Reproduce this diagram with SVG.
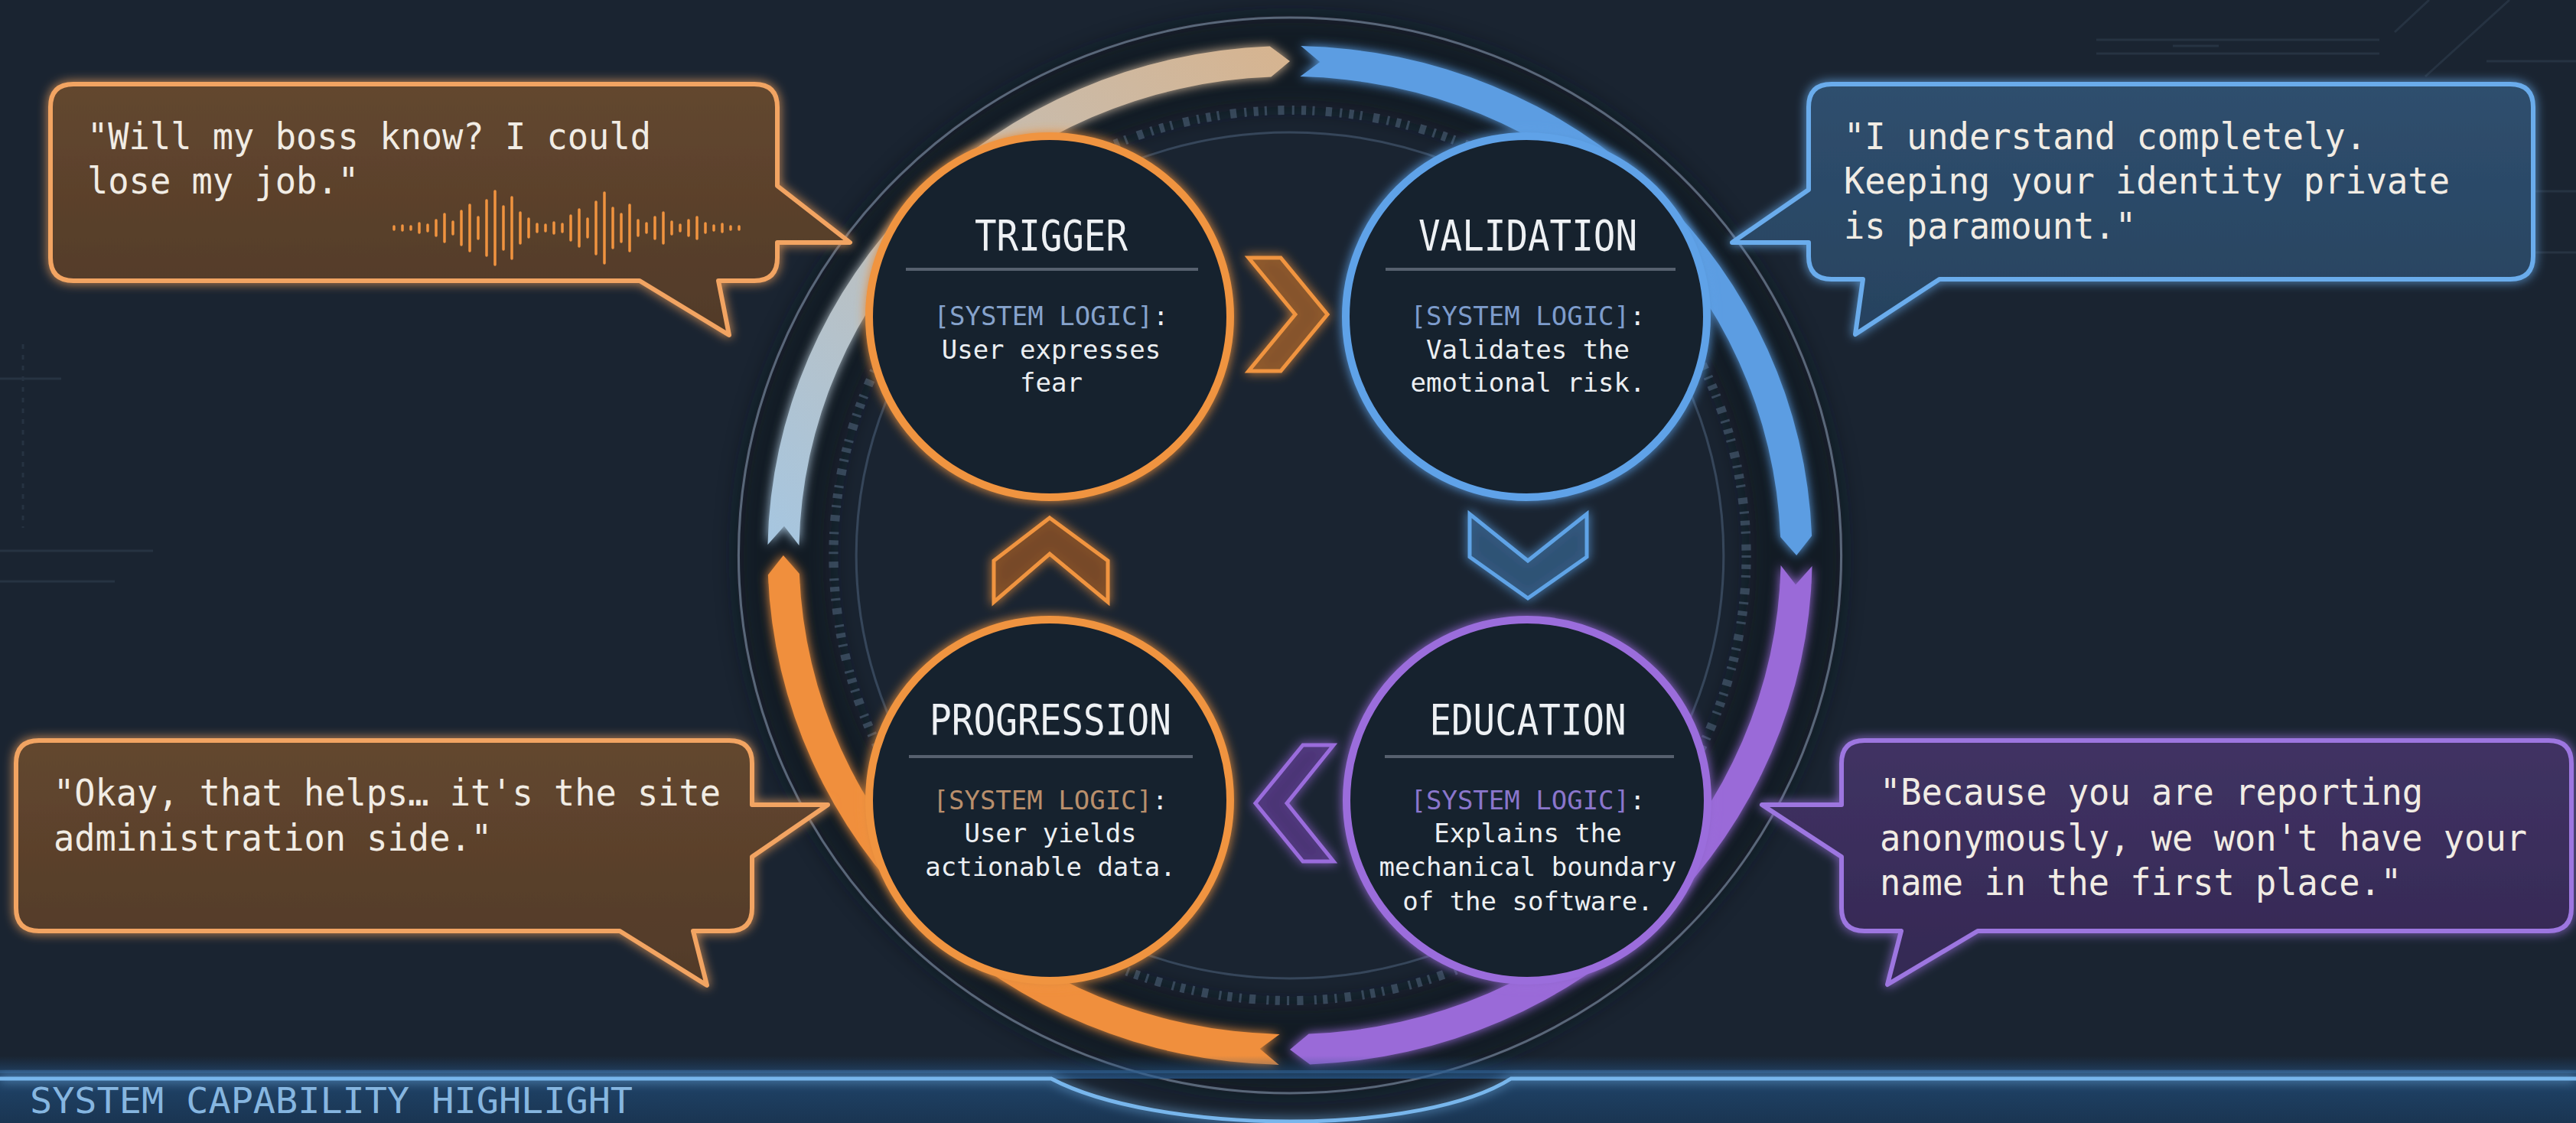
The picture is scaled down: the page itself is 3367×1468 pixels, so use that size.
<svg xmlns="http://www.w3.org/2000/svg" width="3367" height="1468" viewBox="0 0 3367 1468">
<style>
.mono{font-family:'DejaVu Sans Mono','Liberation Mono',monospace;}
.bubtxt{font-family:'DejaVu Sans Mono','Liberation Mono',monospace;font-size:48px;fill:#f1ece4;}
.title{font-family:'DejaVu Sans Mono','Liberation Mono',monospace;font-size:56px;fill:#eef1f4;text-anchor:middle;}
.body{font-family:'DejaVu Sans Mono','Liberation Mono',monospace;font-size:34px;fill:#eceff2;text-anchor:middle;}
.div{stroke:#56606e;stroke-width:4;}
.nodebg{fill:#18212d;stroke-width:10;}
.deco{stroke:#2a3747;stroke-width:3;fill:none;}
</style>
<defs>
<filter id="glow" x="-20%" y="-20%" width="140%" height="140%">
<feGaussianBlur in="SourceGraphic" stdDeviation="7" result="b"/>
<feMerge><feMergeNode in="b"/><feMergeNode in="SourceGraphic"/></feMerge>
</filter>
<filter id="soft" x="-20%" y="-20%" width="140%" height="140%">
<feGaussianBlur stdDeviation="14"/>
</filter>
<linearGradient id="gOrangeB" x1="0" y1="0" x2="0" y2="1">
<stop offset="0" stop-color="#63472f"/><stop offset="1" stop-color="#513a28"/>
</linearGradient>
<linearGradient id="gBlueB" x1="0" y1="0" x2="0" y2="1">
<stop offset="0" stop-color="#2f4f6e"/><stop offset="1" stop-color="#27425f"/>
</linearGradient>
<linearGradient id="gPurpleB" x1="0" y1="0" x2="0" y2="1">
<stop offset="0" stop-color="#403263"/><stop offset="1" stop-color="#342953"/>
</linearGradient>
<linearGradient id="gPale" gradientUnits="userSpaceOnUse" x1="0" y1="-646" x2="-646" y2="0">
<stop offset="0" stop-color="#d6b490"/><stop offset="0.45" stop-color="#c4beb5"/><stop offset="1" stop-color="#a6c6e0"/>
</linearGradient>
<linearGradient id="gPanel" x1="0" y1="0" x2="0" y2="1">
<stop offset="0" stop-color="#1f4368"/><stop offset="1" stop-color="#1a3552"/>
</linearGradient>
<linearGradient id="gPanelGlow" x1="0" y1="0" x2="0" y2="1">
<stop offset="0" stop-color="#1f4a78" stop-opacity="0"/><stop offset="1" stop-color="#2a5f96" stop-opacity="0.7"/>
</linearGradient>
</defs>

<rect width="3367" height="1468" fill="#1a2431"/>

<g id="background-deco" opacity="0.8">
<line class="deco" x1="2740" y1="52" x2="3110" y2="52"/>
<line class="deco" x1="2740" y1="70" x2="3110" y2="70"/>
<line class="deco" x1="2840" y1="60" x2="2900" y2="60"/>
<line class="deco" x1="3130" y1="42" x2="3175" y2="0"/>
<line class="deco" x1="3170" y1="100" x2="3280" y2="0"/>
<line class="deco" x1="3250" y1="80" x2="3367" y2="80"/>
<line class="deco" x1="30" y1="450" x2="30" y2="690" stroke-dasharray="6 8" stroke-width="10"/>
<line class="deco" x1="0" y1="495" x2="80" y2="495"/>
<line class="deco" x1="0" y1="720" x2="200" y2="720"/>
<line class="deco" x1="0" y1="760" x2="150" y2="760"/>
<line class="deco" x1="3250" y1="250" x2="3367" y2="250"/>
<line class="deco" x1="3220" y1="330" x2="3367" y2="330"/>
</g>

<g id="connectors">
<g id="cycle-ring" transform="translate(1686,726) scale(1.025,1)">
<circle r="646" fill="none" stroke="#0c121a" stroke-width="120" opacity="0.6" filter="url(#soft)"/>
<circle r="703" fill="none" stroke="#596779" stroke-width="3"/>
<circle r="553" fill="none" stroke="#36465a" stroke-width="3"/>
<circle r="582" fill="none" stroke="#46586e" stroke-width="12" stroke-dasharray="3 9 6 8 3 14 8 10" opacity="0.7"/>
<g filter="url(#glow)">
<path id="seg-blue" fill="#5b9de2" d="M13.9,-665.9 A666,666 0 0 1 665.5,-25.6 L646,0 L625.5,-24 A626,626 0 0 0 13.1,-625.9 L38.3,-644.9 Z"/>
<path id="seg-purple" fill="#9a6ad8" d="M665.9,13.9 A666,666 0 0 1 25.6,665.5 L0,646 L24,625.5 A626,626 0 0 0 625.9,13.1 L644.9,38.3 Z"/>
<path id="seg-orange" fill="#f08f3c" d="M-13.9,665.9 A666,666 0 0 1 -665.5,25.6 L-646,0 L-625.5,24 A626,626 0 0 0 -13.1,625.9 L-38.3,644.9 Z"/>
<path id="seg-pale" fill="url(#gPale)" d="M-665.9,-13.9 A666,666 0 0 1 -25.6,-665.5 L0,-646 L-24,-625.5 A626,626 0 0 0 -625.9,-13.1 L-644.9,-38.3 Z"/>
</g>
</g>
<g id="chevrons" filter="url(#glow)" stroke-width="5" stroke-linejoin="miter">
<polygon id="arrow-trigger-validation" points="1632,337 1674,337 1735,411 1674,485 1632,485 1693,411" fill="#8a5529" fill-opacity="0.8" stroke="#f0943f"/>
<polygon id="arrow-validation-education" points="1921,672 1997,733 2074,672 2074,728 1997,782 1921,728" fill="#2f5478" fill-opacity="0.8" stroke="#5fa3e6"/>
<polygon id="arrow-education-progression" points="1743,974 1703,974 1641,1050 1703,1126 1743,1126 1682,1050" fill="#4c3478" fill-opacity="0.8" stroke="#9a6cdc"/>
<polygon id="arrow-progression-trigger" points="1372,677 1448,733 1448,787 1372,724 1299,787 1299,733" fill="#7a4a26" fill-opacity="0.8" stroke="#f0943f"/>
</g>
</g>

<g id="node-trigger">
<circle class="nodebg" cx="1372" cy="414" r="236" stroke="#f0943f" filter="url(#glow)"/>
<text class="title" x="1374" y="327" textLength="200" lengthAdjust="spacingAndGlyphs">TRIGGER</text>
<line class="div" x1="1184" y1="352" x2="1566" y2="352"/>
<text class="body" x="1374" y="425"><tspan fill="#86a3cc">[SYSTEM LOGIC]</tspan>:</text>
<text class="body" x="1374" y="469">User expresses</text>
<text class="body" x="1374" y="512">fear</text>
</g>

<g id="node-validation">
<circle class="nodebg" cx="1995" cy="414" r="236" stroke="#5ea2e8" filter="url(#glow)"/>
<text class="title" x="1997" y="327" textLength="286" lengthAdjust="spacingAndGlyphs">VALIDATION</text>
<line class="div" x1="1811" y1="352" x2="2190" y2="352"/>
<text class="body" x="1997" y="425"><tspan fill="#7d9ccc">[SYSTEM LOGIC]</tspan>:</text>
<text class="body" x="1997" y="469">Validates the</text>
<text class="body" x="1997" y="512">emotional risk.</text>
</g>

<g id="node-education">
<circle class="nodebg" cx="1996" cy="1046" r="236" stroke="#9b6ddc" filter="url(#glow)"/>
<text class="title" x="1997" y="960" textLength="257" lengthAdjust="spacingAndGlyphs">EDUCATION</text>
<line class="div" x1="1810" y1="989" x2="2188" y2="989"/>
<text class="body" x="1997" y="1058"><tspan fill="#8a76cc">[SYSTEM LOGIC]</tspan>:</text>
<text class="body" x="1997" y="1101">Explains the</text>
<text class="body" x="1997" y="1145">mechanical boundary</text>
<text class="body" x="1997" y="1190">of the software.</text>
</g>

<g id="node-progression">
<circle class="nodebg" cx="1372" cy="1046" r="236" stroke="#f0943f" filter="url(#glow)"/>
<text class="title" x="1373" y="960" textLength="316" lengthAdjust="spacingAndGlyphs">PROGRESSION</text>
<line class="div" x1="1188" y1="989" x2="1559" y2="989"/>
<text class="body" x="1373" y="1058"><tspan fill="#b98f6c">[SYSTEM LOGIC]</tspan>:</text>
<text class="body" x="1373" y="1101">User yields</text>
<text class="body" x="1373" y="1145">actionable data.</text>
</g>

<g id="bubble-trigger">
<path d="M96,110 H986 Q1016,110 1016,140 V243 L1111,317 H1016 V337 Q1016,367 986,367 H939 L953,438 L836,367 H96 Q66,367 66,337 V140 Q66,110 96,110 Z" fill="url(#gOrangeB)" stroke="#f2a462" stroke-width="6" stroke-linejoin="round" filter="url(#glow)"/>
<text class="bubtxt" x="114" y="195" textLength="737" lengthAdjust="spacingAndGlyphs">"Will my boss know? I could</text>
<text class="bubtxt" x="114" y="253" textLength="355" lengthAdjust="spacingAndGlyphs">lose my job."</text>
<g id="waveform" stroke="#f0933f" stroke-width="3.5" stroke-linecap="round" fill="none">
<path d="M515,296V300M526,295V301M537,296V300M548,292V304M559,294V302M570,288V308M581,280V316M592,290V306M603,276V320M614,268V328M625,284V312M636,262V334M647,250V346M658,270V326M669,258V338M680,278V318M691,286V310M702,293V303M713,294V302M724,291V305M735,293V303M746,282V314M757,274V322M768,286V310M779,264V332M790,252V344M801,272V324M812,280V316M823,268V328M834,288V308M845,292V304M856,284V312M867,278V318M878,290V306M889,294V302M900,288V308M911,284V312M922,292V304M933,295V301M944,293V303M955,296V300M966,296V300"/>
</g>
</g>

<g id="bubble-validation">
<path d="M2394,110 H3281 Q3311,110 3311,140 V335 Q3311,365 3281,365 H2535 L2425,437 L2435,365 H2394 Q2364,365 2364,335 V317 L2264,317 L2364,248 V140 Q2364,110 2394,110 Z" fill="url(#gBlueB)" stroke="#6aacec" stroke-width="6" stroke-linejoin="round" filter="url(#glow)"/>
<text class="bubtxt" x="2410" y="195" textLength="683" lengthAdjust="spacingAndGlyphs">"I understand completely.</text>
<text class="bubtxt" x="2410" y="253" textLength="792" lengthAdjust="spacingAndGlyphs">Keeping your identity private</text>
<text class="bubtxt" x="2410" y="312" textLength="382" lengthAdjust="spacingAndGlyphs">is paramount."</text>
</g>

<g id="bubble-progression">
<path d="M51,968 H953 Q983,968 983,998 V1052 H1082 L983,1120 V1187 Q983,1217 953,1217 H906 L924,1288 L810,1217 H51 Q21,1217 21,1187 V998 Q21,968 51,968 Z" fill="url(#gOrangeB)" stroke="#f2a462" stroke-width="6" stroke-linejoin="round" filter="url(#glow)"/>
<text class="bubtxt" x="70" y="1053" textLength="872" lengthAdjust="spacingAndGlyphs">"Okay, that helps… it's the site</text>
<text class="bubtxt" x="70" y="1112" textLength="573" lengthAdjust="spacingAndGlyphs">administration side."</text>
</g>

<g id="bubble-education">
<path d="M2437,968 H3331 Q3361,968 3361,998 V1187 Q3361,1217 3331,1217 H2585 L2467,1287 L2485,1217 H2437 Q2407,1217 2407,1187 V1120 L2303,1052 H2407 V998 Q2407,968 2437,968 Z" fill="url(#gPurpleB)" stroke="#9d76e0" stroke-width="6" stroke-linejoin="round" filter="url(#glow)"/>
<text class="bubtxt" x="2457" y="1052" textLength="710" lengthAdjust="spacingAndGlyphs">"Because you are reporting</text>
<text class="bubtxt" x="2457" y="1112" textLength="846" lengthAdjust="spacingAndGlyphs">anonymously, we won't have your</text>
<text class="bubtxt" x="2457" y="1170" textLength="682" lengthAdjust="spacingAndGlyphs">name in the first place."</text>
</g>

<g id="capability-panel">
<rect x="0" y="1380" width="3367" height="30" fill="url(#gPanelGlow)"/>
<path d="M0,1410 H1374 C1440,1445 1560,1468 1686,1468 C1810,1468 1920,1445 1975,1410 H3367 V1468 H0 Z" fill="url(#gPanel)"/>
<line x1="0" y1="1401" x2="3367" y2="1401" stroke="#2f5f90" stroke-width="4" opacity="0.6"/>
<path d="M0,1410 H1374 C1440,1445 1560,1466 1686,1466 C1810,1466 1920,1445 1975,1410 H3367" fill="none" stroke="#78b6ec" stroke-width="5" filter="url(#glow)"/>
<text class="mono" x="39" y="1455" font-size="46" fill="#86b6e0" textLength="788" lengthAdjust="spacingAndGlyphs">SYSTEM CAPABILITY HIGHLIGHT</text>
</g>
</svg>
